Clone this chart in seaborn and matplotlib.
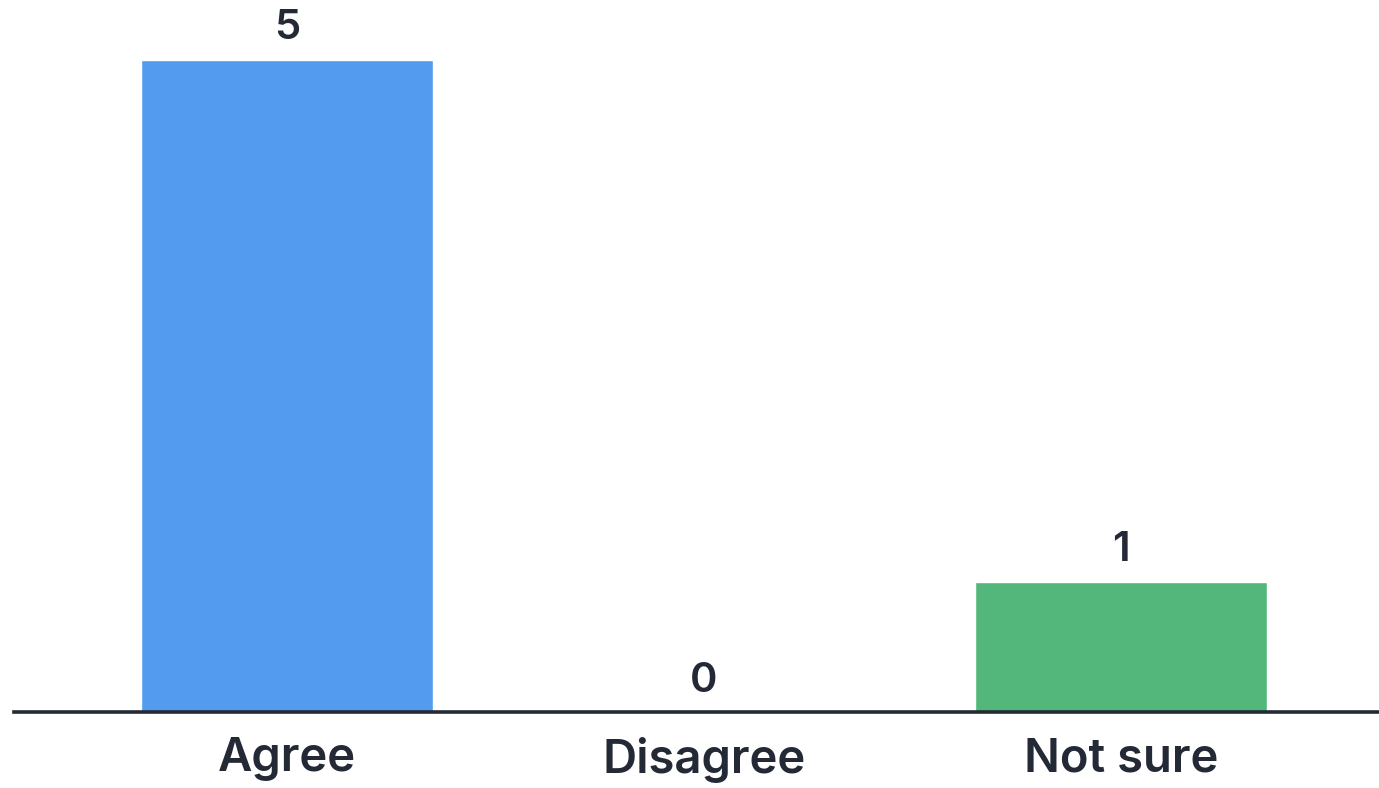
import matplotlib
matplotlib.use("Agg")
import matplotlib.pyplot as plt
import seaborn as sns
import pandas as pd

categories = ["Agree", "Disagree", "Not sure"]
counts = [5, 0, 1]
bar_colors = ["#529BEE", "#E8A33D", "#53B77B"]

TEXT = "#232A35"

sns.set_theme(style="white")
plt.rcParams["font.family"] = ["Inter", "DejaVu Sans"]

df = pd.DataFrame({"answer": categories, "count": counts})

fig = plt.figure(figsize=(13.79, 7.88), dpi=100)
ax = fig.add_axes([14 / 1379, 76 / 788, 1365 / 1379, 712 / 788])

sns.barplot(data=df, x="answer", y="count", hue="answer",
            palette=dict(zip(categories, bar_colors)), width=0.7,
            legend=False, ax=ax, saturation=1)

ax.set_xlim(-0.655, 2.619)
ax.set_ylim(0, 5.456)

for c in ax.containers:
    ax.bar_label(c, labels=[f"{v:g}" for v in c.datavalues], padding=9,
                 fontsize=30, fontweight="semibold", color=TEXT)

for side in ["top", "left", "right"]:
    ax.spines[side].set_visible(False)
ax.spines["bottom"].set_color(TEXT)
ax.spines["bottom"].set_linewidth(2.6)

ax.set_yticks([])
ax.set_xlabel("")
ax.set_ylabel("")
ax.tick_params(axis="x", length=0, pad=18, labelsize=34, labelcolor=TEXT)
for t in ax.get_xticklabels():
    t.set_fontweight("semibold")

fig.savefig("out.png", dpi=100, facecolor="white")
